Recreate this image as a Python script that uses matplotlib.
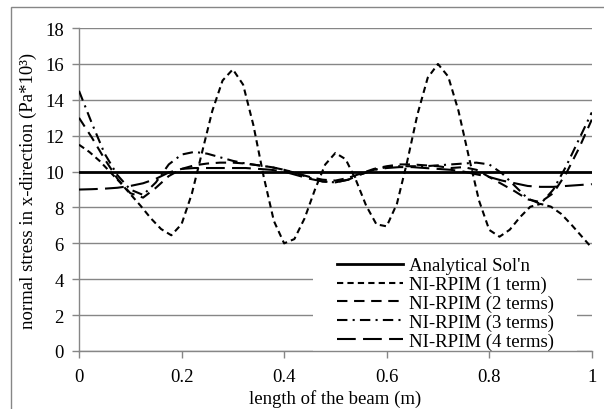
import matplotlib
matplotlib.use("Agg")
import matplotlib.pyplot as plt
from matplotlib.patches import Rectangle

plt.rcParams['font.family'] = ['Liberation Serif', 'DejaVu Serif']

# analytical solution
x_an = [0.0, 1.0]
y_an = [10.0, 10.0]

# NI-RPIM (1 term)
x_1 = [0.0, 0.02, 0.04, 0.06, 0.08, 0.10, 0.12, 0.14, 0.16, 0.18, 0.20, 0.22, 0.24,
       0.26, 0.28, 0.30, 0.32, 0.34, 0.36, 0.38, 0.40, 0.42, 0.44, 0.46, 0.48, 0.50,
       0.52, 0.54, 0.56, 0.58, 0.60, 0.62, 0.64, 0.66, 0.68, 0.70, 0.72, 0.74, 0.76,
       0.78, 0.80, 0.82, 0.84, 0.86, 0.88, 0.90, 0.92, 0.94, 0.96, 0.98, 1.0]
y_1 = [11.5, 11.1, 10.6, 10.0, 9.4, 8.75, 8.1, 7.4, 6.8, 6.45, 7.07, 8.76, 11.08,
       13.39, 15.08, 15.7, 14.85, 12.6, 9.74, 7.25, 6.0, 6.24, 7.4, 8.99, 10.39, 11.04,
       10.69, 9.53, 8.10, 7.06, 6.95, 8.21, 10.56, 13.19, 15.23, 16.0, 15.3, 13.39, 10.85,
       8.39, 6.75, 6.37, 6.76, 7.46, 8.04, 8.2, 8.05, 7.65, 7.05, 6.4, 5.75]

# x positions for the 2, 3 and 4 term curves
x_n = [0.0, 0.025, 0.05, 0.075, 0.1, 0.125, 0.15, 0.175, 0.2, 0.225, 0.25, 0.275,
       0.3, 0.325, 0.35, 0.375, 0.4, 0.425, 0.45, 0.475, 0.5, 0.525, 0.55, 0.575,
       0.6, 0.625, 0.65, 0.675, 0.7, 0.725, 0.75, 0.775, 0.8, 0.825, 0.85, 0.875,
       0.9, 0.925, 0.95, 0.975, 1.0]

y_2 = [13.0, 11.9, 10.7, 9.6, 8.8, 8.55, 9.1, 9.75, 10.15, 10.35,
       10.45, 10.5, 10.5, 10.45, 10.35, 10.25, 10.1, 9.9, 9.7, 9.55,
       9.5, 9.65, 9.9, 10.15, 10.3, 10.4, 10.4, 10.35, 10.3, 10.2,
       10.25, 10.1, 9.7, 9.3, 8.9, 8.45, 8.3, 8.8, 9.9, 11.3, 12.9]

y_3 = [14.5, 12.7, 11.0, 9.8, 9.0, 8.7, 9.4, 10.4, 10.95, 11.1,
       11.0, 10.8, 10.6, 10.45, 10.35, 10.25, 10.1, 9.9, 9.65, 9.45,
       9.4, 9.55, 9.85, 10.1, 10.25, 10.3, 10.3, 10.3, 10.35, 10.4,
       10.45, 10.5, 10.4, 9.9, 9.2, 8.5, 8.2, 9.0, 10.3, 11.8, 13.3]

y_4 = [9.0, 9.02, 9.05, 9.1, 9.2, 9.35, 9.6, 9.95, 10.15, 10.2,
       10.2, 10.2, 10.2, 10.2, 10.15, 10.1, 10.0, 9.8, 9.6, 9.45,
       9.4, 9.55, 9.85, 10.1, 10.2, 10.25, 10.25, 10.2, 10.15, 10.1,
       10.0, 9.85, 9.7, 9.5, 9.35, 9.2, 9.15, 9.15, 9.2, 9.25, 9.3]

labels = ["Analytical Sol'n", "NI-RPIM (1 term)", "NI-RPIM (2 terms)",
          "NI-RPIM (3 terms)", "NI-RPIM (4 terms)"]
xticks = [0, 0.2, 0.4, 0.6, 0.8, 1.0]
xtick_labels = ["0", "0.2", "0.4", "0.6", "0.8", "1"]
yticks = [0, 2, 4, 6, 8, 10, 12, 14, 16, 18]

grey = "#868686"
fs = 13.5

fig = plt.figure(figsize=(6.04, 4.10), dpi=100)
ax = fig.add_axes([0.1308, 0.1415, 0.849, 0.7875])

# chart border (cropped on the right and bottom)
fig.patches.append(Rectangle((11 / 604, -0.05), 1.2, 1 - 8 / 410 + 0.05,
                             transform=fig.transFigure, fill=False,
                             edgecolor=grey, lw=1.0))

# white area behind the legend hides the lower gridlines
ax.add_patch(Rectangle((0.456, 0.0), 0.515, 0.315, transform=ax.transAxes,
                       facecolor="white", edgecolor="none", zorder=1.5))

lw = 1.5
ax.plot(x_an, y_an, color="black", lw=2.0, label=labels[0], zorder=3)
ax.plot(x_1, y_1, color="black", lw=lw, dashes=(3.0, 2.0), label=labels[1], zorder=3)
ax.plot(x_n, y_2, color="black", lw=lw, dashes=(5.0, 3.2), label=labels[2], zorder=3)
ax.plot(x_n, y_3, color="black", lw=lw, dashes=(5.0, 2.5, 1.0, 2.5), label=labels[3], zorder=3)
ax.plot(x_n, y_4, color="black", lw=lw, dashes=(9.0, 3.5), label=labels[4], zorder=3)

ax.set_xlim(0, 1)
ax.set_ylim(0, 18)
ax.set_xticks(xticks)
ax.set_xticklabels(xtick_labels)
ax.set_yticks(yticks)
ax.grid(axis="y", color=grey, lw=1.0, zorder=1)
ax.set_axisbelow(True)

for s in ["top", "right"]:
    ax.spines[s].set_visible(False)
for s in ["left", "bottom"]:
    ax.spines[s].set_color(grey)
    ax.spines[s].set_linewidth(1.0)
ax.tick_params(axis="both", colors=grey, labelcolor="black", labelsize=fs,
               length=5, width=1.0, direction="out")
ax.tick_params(axis="x", pad=7)
ax.tick_params(axis="y", pad=6)

ax.set_xlabel("length of the beam (m)", fontsize=fs, labelpad=3)
ax.set_ylabel("normal stress in x-direction (Pa*10³)", fontsize=fs, labelpad=6)

leg = ax.legend(loc="lower left", bbox_to_anchor=(0.503, 0.004), frameon=False,
                fontsize=fs, handlelength=3.5, labelspacing=0.08,
                handletextpad=0.35, borderpad=0.0, borderaxespad=0.0)

fig.savefig("out.png", dpi=100)
